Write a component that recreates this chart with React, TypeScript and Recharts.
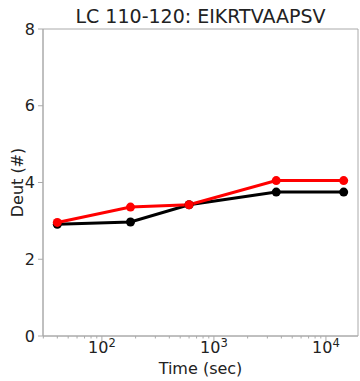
import { LineChart, Line, XAxis, YAxis, ReferenceArea } from 'recharts'

const TIMES = [40, 180, 600, 3600, 14400]
const RED = [2.96, 3.36, 3.42, 4.05, 4.05]
const BLACK = [2.91, 2.97, 3.42, 3.75, 3.75]
const MAJOR_X = [100, 1000, 10000]
const MINOR_X = [30, 40, 50, 60, 70, 80, 90, 200, 300, 400, 500, 600, 700, 800, 900, 2000, 3000, 4000, 5000, 6000, 7000, 8000, 9000]
const Y_TICKS = [0, 2, 4, 6, 8]
const X_DOMAIN = [29.8, 19330]

const data = TIMES.map((t, i) => ({ t, red: RED[i], black: BLACK[i] }))

const SPINE = '#aaa'
const TEXT = '#222'
const FONT = 'DejaVu Sans'

function XTick(props: any) {
  const { x, y, payload } = props
  const v = payload.value
  const major = MAJOR_X.includes(v)
  const exp = Math.round(Math.log10(v))
  return (
    <g>
      <line x1={x} x2={x} y1={y} y2={y + (major ? 5 : 2.5)} stroke={SPINE} />
      {major && (
        <text x={x} y={y + 17} textAnchor="middle" fontSize={16} fill={TEXT} fontFamily={FONT}>
          10<tspan dy={-6} fontSize={11.5}>{exp}</tspan>
        </text>
      )}
    </g>
  )
}

export default function App() {
  return (
    <div style={{ position: 'fixed', left: 0, top: 0, width: 360, height: 381, background: '#fff' }}>
      <div
        style={{
          position: 'absolute',
          left: 43,
          width: 315,
          top: 5,
          textAlign: 'center',
          fontFamily: FONT,
          fontSize: 19,
          color: TEXT,
          whiteSpace: 'nowrap',
        }}
      >
        LC 110-120: EIKRTVAAPSV
      </div>
      <LineChart width={360} height={381} data={data} margin={{ top: 29, right: 2, left: 0, bottom: 0 }}>
        <XAxis
          dataKey="t"
          type="number"
          scale="log"
          domain={X_DOMAIN}
          allowDataOverflow
          ticks={[...MINOR_X, ...MAJOR_X].sort((a, b) => a - b)}
          interval={0}
          tick={<XTick />}
          tickSize={0}
          tickMargin={0}
          tickLine={false}
          height={45}
          axisLine={{ stroke: SPINE }}
          label={{ value: 'Time (sec)', position: 'insideBottom', offset: 7, fontSize: 16, fill: TEXT, fontFamily: FONT }}
        />
        <YAxis
          type="number"
          domain={[0, 8]}
          ticks={Y_TICKS}
          interval={0}
          width={43}
          tickSize={5}
          tickMargin={3}
          tickLine={{ stroke: SPINE }}
          axisLine={{ stroke: SPINE }}
          tick={{ fontSize: 16, fill: TEXT, fontFamily: FONT }}
          label={{ value: 'Deut (#)', angle: -90, position: 'insideLeft', offset: 17, fontSize: 16, fill: TEXT, fontFamily: FONT, style: { textAnchor: 'middle' } }}
        />
        <ReferenceArea x1={X_DOMAIN[0]} x2={X_DOMAIN[1]} y1={0} y2={8} fill="none" stroke={SPINE} ifOverflow="visible" />
        <Line
          dataKey="black"
          stroke="#000"
          strokeWidth={3}
          dot={{ r: 4.5, fill: '#000', stroke: '#000', strokeWidth: 0 }}
          isAnimationActive={false}
        />
        <Line
          dataKey="red"
          stroke="#ff0000"
          strokeWidth={3}
          dot={{ r: 4.5, fill: '#ff0000', stroke: '#ff0000', strokeWidth: 0 }}
          isAnimationActive={false}
        />
      </LineChart>
    </div>
  )
}
